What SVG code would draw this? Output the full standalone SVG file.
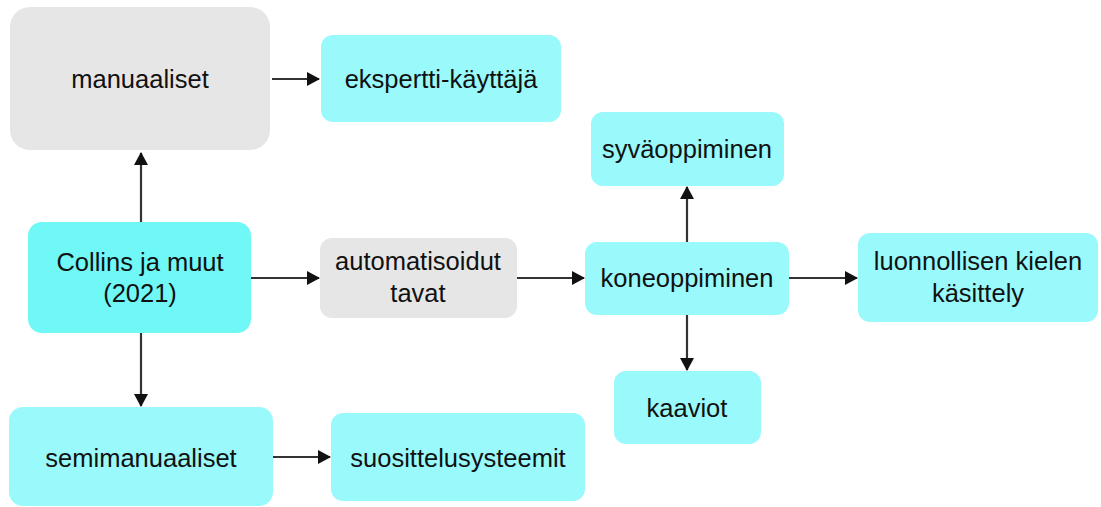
<svg xmlns="http://www.w3.org/2000/svg" width="1101" height="507" viewBox="0 0 1101 507">
<style>
.t{font-family:"Liberation Sans",Arial,Helvetica,sans-serif;font-size:25.5px;fill:#111;text-anchor:middle}
.c{fill:#99f9fb}
.cc{fill:#6ff8f5}
.g{fill:#e6e6e6}
.e{fill:none;stroke:#333;stroke-width:2.2;marker-end:url(#ah)}
</style>
<defs>
<marker id="ah" markerUnits="userSpaceOnUse" viewBox="0 0 13 14" markerWidth="13" markerHeight="14" refX="12" refY="7" orient="auto">
<path d="M0,0 L13,7 L0,14 Z" fill="#111"/>
</marker>
</defs>
<rect width="1101" height="507" fill="#fff"/>
<g id="connectors">
<path class="e" d="M272,79 H319"/>
<path class="e" d="M141,222 V153"/>
<path class="e" d="M141,333 V406"/>
<path class="e" d="M251,278 H319"/>
<path class="e" d="M517,278 H584"/>
<path class="e" d="M687,242 V187"/>
<path class="e" d="M687,315 V370"/>
<path class="e" d="M789,278 H857"/>
<path class="e" d="M273,457 H330"/>
</g>
<g id="manuaaliset"><rect class="g" x="10" y="7" width="260" height="143" rx="20"/><text class="t" x="140" y="88">manuaaliset</text></g>
<g id="ekspertti"><rect class="c" x="321" y="35" width="240" height="87" rx="12"/><text class="t" x="441" y="88">ekspertti-käyttäjä</text></g>
<g id="collins"><rect class="cc" x="28" y="222" width="223" height="111" rx="14"/><text class="t" x="140" y="271">Collins ja muut</text><text class="t" x="140" y="302">(2021)</text></g>
<g id="automatisoidut"><rect class="g" x="320" y="238" width="197" height="80" rx="12"/><text class="t" x="418" y="270">automatisoidut</text><text class="t" x="418" y="302">tavat</text></g>
<g id="koneoppiminen"><rect class="c" x="585" y="242" width="204" height="73" rx="12"/><text class="t" x="687" y="287">koneoppiminen</text></g>
<g id="syvaoppiminen"><rect class="c" x="591" y="112" width="193" height="74" rx="12"/><text class="t" x="687" y="158">syväoppiminen</text></g>
<g id="kaaviot"><rect class="c" x="614" y="371" width="147" height="73" rx="12"/><text class="t" x="687" y="417">kaaviot</text></g>
<g id="luonnollisen"><rect class="c" x="858" y="233" width="240" height="89" rx="12"/><text class="t" x="978" y="270">luonnollisen kielen</text><text class="t" x="978" y="302">käsittely</text></g>
<g id="semimanuaaliset"><rect class="c" x="9" y="407" width="264" height="99" rx="14"/><text class="t" x="141" y="467">semimanuaaliset</text></g>
<g id="suosittelusysteemit"><rect class="c" x="331" y="413" width="254" height="88" rx="12"/><text class="t" x="458" y="467">suosittelusysteemit</text></g>
</svg>
